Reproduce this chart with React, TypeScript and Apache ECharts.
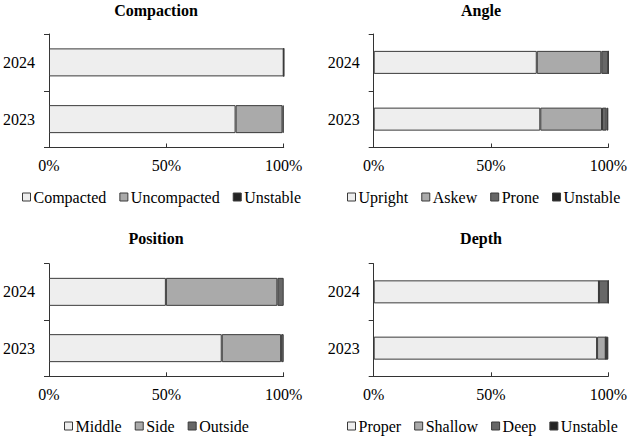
import React, { useEffect, useRef } from "react";
import * as echarts from "echarts";

const years = ["2023", "2024"];
const tickLabels = ["0%", "50%", "100%"];

const compactionNames = ["Compacted", "Uncompacted", "Unstable"];
const compacted = [79.5, 100];
const uncompacted = [20, 0];
const compactionUnstable = [0.5, 0];

const angleNames = ["Upright", "Askew", "Prone", "Unstable"];
const upright = [71, 69.5];
const askew = [26.3, 27.5];
const prone = [2, 3];
const angleUnstable = [0.7, 0];

const positionNames = ["Middle", "Side", "Outside"];
const middle = [73.6, 49.8];
const side = [25.3, 47.5];
const outside = [1.1, 2.7];

const depthNames = ["Proper", "Shallow", "Deep", "Unstable"];
const proper = [95.2, 96];
const shallow = [3.7, 0];
const deep = [0, 4];
const depthUnstable = [1.1, 0];

const FONT = "Liberation Serif";
const LIGHT = "#eeeeee";
const MID = "#aaaaaa";
const DARK = "#676767";
const BLACK = "#242424";
const EDGE = "#3a3a3a";

type Panel = {
  title: string;
  titleX: number;
  titleY: number;
  legendX: number;
  legendY: number;
  grid: { left: number; top: number; width: number; height: number };
  barWidth: number;
  names: string[];
  values: number[][];
  colors: string[];
};

const panels: Panel[] = [
  {
    title: "Compaction",
    titleX: 156,
    titleY: 2,
    legendX: 22,
    legendY: 189,
    grid: { left: 48.7, top: 34, width: 235, height: 113.5 },
    barWidth: 28,
    names: compactionNames,
    values: [compacted, uncompacted, compactionUnstable],
    colors: [LIGHT, MID, BLACK],
  },
  {
    title: "Angle",
    titleX: 481,
    titleY: 2,
    legendX: 347,
    legendY: 189,
    grid: { left: 373.7, top: 34, width: 235.3, height: 113.5 },
    barWidth: 23,
    names: angleNames,
    values: [upright, askew, prone, angleUnstable],
    colors: [LIGHT, MID, DARK, BLACK],
  },
  {
    title: "Position",
    titleX: 156,
    titleY: 230,
    legendX: 64,
    legendY: 418,
    grid: { left: 48.7, top: 263.7, width: 235, height: 112.6 },
    barWidth: 28,
    names: positionNames,
    values: [middle, side, outside],
    colors: [LIGHT, MID, DARK],
  },
  {
    title: "Depth",
    titleX: 481,
    titleY: 230,
    legendX: 347,
    legendY: 418,
    grid: { left: 373.7, top: 263.7, width: 235.3, height: 112.6 },
    barWidth: 23,
    names: depthNames,
    values: [proper, shallow, deep, depthUnstable],
    colors: [LIGHT, MID, DARK, BLACK],
  },
];

export default function App() {
  const ref = useRef<HTMLDivElement>(null);

  useEffect(() => {
    if (!ref.current) return;
    const chart = echarts.init(ref.current, null, { renderer: "svg" });

    const series: any[] = [];
    panels.forEach((p, i) => {
      p.names.forEach((name, j) => {
        series.push({
          type: "bar",
          name,
          stack: "s" + i,
          xAxisIndex: i,
          yAxisIndex: i,
          barWidth: p.barWidth,
          data: p.values[j],
          itemStyle: { color: p.colors[j], borderColor: EDGE, borderWidth: 1 },
          emphasis: { disabled: true },
        });
      });
    });

    chart.setOption({
      animation: false,
      backgroundColor: "#ffffff",
      textStyle: { fontFamily: FONT },
      title: panels.map((p) => ({
        text: p.title,
        left: p.titleX,
        top: p.titleY,
        textAlign: "center",
        padding: 0,
        textStyle: { fontFamily: FONT, fontSize: 16, fontWeight: "bold", color: "#000" },
      })),
      legend: panels.map((p) => ({
        data: p.names,
        left: p.legendX,
        top: p.legendY,
        padding: 0,
        itemWidth: 8,
        itemHeight: 8,
        itemGap: 13,
        icon: "rect",
        selectedMode: false,
        itemStyle: { borderColor: EDGE, borderWidth: 1 },
        textStyle: { fontFamily: FONT, fontSize: 16, color: "#000", padding: [0, 0, 0, -2] },
      })),
      grid: panels.map((p) => ({ ...p.grid, containLabel: false })),
      xAxis: panels.map((_, i) => ({
        type: "value",
        gridIndex: i,
        min: 0,
        max: 100,
        interval: 50,
        splitLine: { show: false },
        axisLine: { show: true, lineStyle: { color: "#333", width: 1 } },
        axisTick: { show: true, inside: true, length: 4, lineStyle: { color: "#333" } },
        axisLabel: {
          fontFamily: FONT,
          fontSize: 16,
          color: "#000",
          margin: 10,
          formatter: (v: number) => tickLabels[Math.round(v / 50)],
        },
      })),
      yAxis: panels.map((_, i) => ({
        type: "category",
        gridIndex: i,
        data: years,
        axisLine: { show: true, lineStyle: { color: "#333", width: 1 } },
        axisTick: { show: true, length: 5, lineStyle: { color: "#333" } },
        axisLabel: { fontFamily: FONT, fontSize: 16, color: "#000", margin: 14 },
      })),
      series,
    });

    return () => chart.dispose();
  }, []);

  return (
    <div
      ref={ref}
      style={{ position: "absolute", left: 0, top: 0, width: 630, height: 436 }}
    />
  );
}
